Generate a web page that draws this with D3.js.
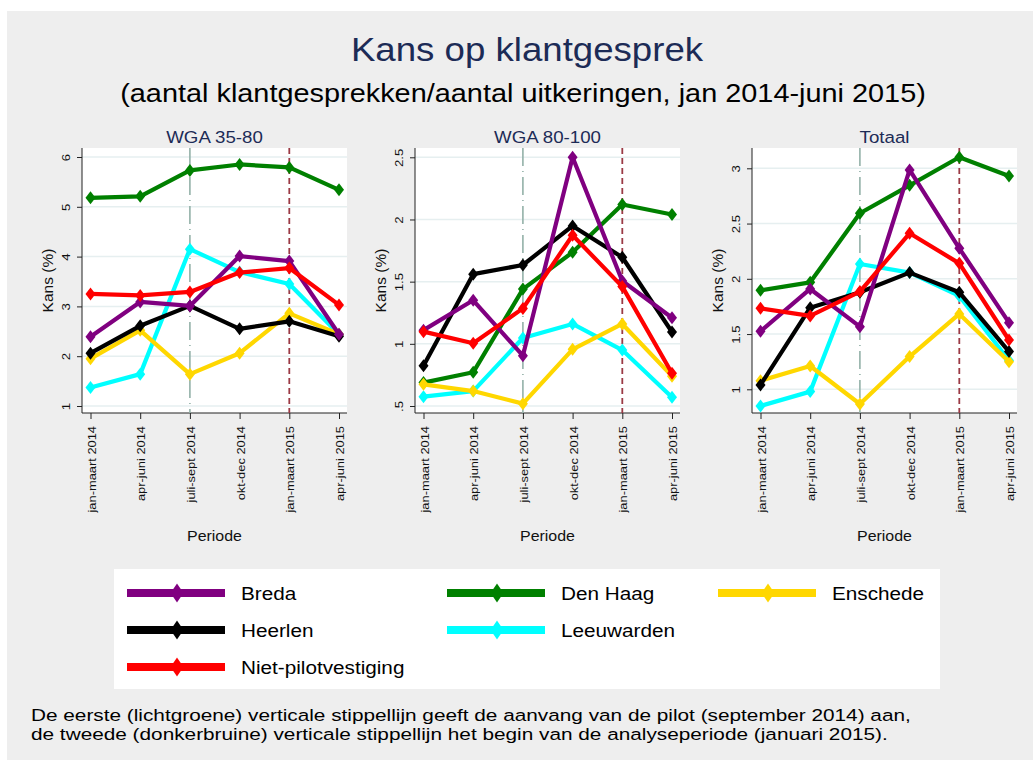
<!DOCTYPE html>
<html>
<head>
<meta charset="utf-8">
<script src="https://cdn.jsdelivr.net/npm/d3@7"></script>
<style>
  body { margin: 0; background: #fff; }
  svg { display: block; font-family: "Liberation Sans", Arial, sans-serif; }
</style>
</head>
<body>
<div id="chart"></div>
<script>
const periods = ['jan-maart 2014', 'apr-juni 2014', 'juli-sept 2014', 'okt-dec 2014', 'jan-maart 2015', 'apr-juni 2015'];
const seriesNames = ['Breda', 'Den Haag', 'Enschede', 'Heerlen', 'Leeuwarden', 'Niet-pilotvestiging'];
const seriesColors = ['#800080', '#008000', '#ffd700', '#000000', '#00ffff', '#ff0000'];
const drawOrder = ['Den Haag', 'Leeuwarden', 'Enschede', 'Heerlen', 'Breda', 'Niet-pilotvestiging'];

const panelTitles = ['WGA 35-80', 'WGA 80-100', 'Totaal'];
const panelTicks = [[1, 2, 3, 4, 5, 6], [0.5, 1, 1.5, 2, 2.5], [1, 1.5, 2, 2.5, 3]];
const panelTickLabels = [['1', '2', '3', '4', '5', '6'], ['.5', '1', '1.5', '2', '2.5'], ['1', '1.5', '2', '2.5', '3']];

// values per series, per panel (WGA 35-80, WGA 80-100, Totaal)
const breda      = [[2.39, 3.09, 3.01, 4.01, 3.91, 2.44], [1.11, 1.35, 0.905, 2.50, 1.505, 1.21], [1.525, 1.908, 1.567, 2.985, 2.276, 1.603]];
const denHaag    = [[5.18, 5.21, 5.73, 5.85, 5.79, 5.34], [0.688, 0.771, 1.44, 1.736, 2.12, 2.04], [1.896, 1.968, 2.593, 2.846, 3.10, 2.93]];
const enschede   = [[1.95, 2.52, 1.64, 2.06, 2.86, 2.44], [0.674, 0.62, 0.519, 0.956, 1.16, 0.74], [1.078, 1.211, 0.867, 1.296, 1.682, 1.25]];
const heerlen    = [[2.06, 2.61, 3.01, 2.55, 2.70, 2.40], [0.824, 1.56, 1.634, 1.948, 1.696, 1.095], [1.04, 1.739, 1.878, 2.056, 1.878, 1.341]];
const leeuwarden = [[1.37, 1.64, 4.15, 3.69, 3.45, 2.44], [0.575, 0.62, 1.047, 1.16, 0.95, 0.57], [0.849, 0.979, 2.134, 2.056, 1.845, 1.26]];
const nietPilot  = [[3.25, 3.22, 3.29, 3.68, 3.77, 3.03], [1.098, 1.004, 1.285, 1.873, 1.46, 0.763], [1.733, 1.664, 1.884, 2.412, 2.14, 1.446]];
const seriesValues = [breda, denHaag, enschede, heerlen, leeuwarden, nietPilot];

const pilotStart = 'juli-sept 2014';
const analysisStart = 'jan-maart 2015';
const footnote = [
  'De eerste (lichtgroene) verticale stippellijn geeft de aanvang van de pilot (september 2014) aan,',
  'de tweede (donkerbruine) verticale stippellijn het begin van de analyseperiode (januari 2015).'
];

const W = 1033, H = 760;
const svg = d3.select('#chart').append('svg').attr('width', W).attr('height', H);

// text drawn a bit wider than the font, like the original export
function wideText(parent, x, y, k, anchor, size, fill, str, rotate) {
  return parent.append('text')
    .attr('transform', `translate(${x},${y})${rotate ? ' rotate(-90)' : ''} scale(${k},1)`)
    .attr('text-anchor', anchor).attr('font-size', size).attr('fill', fill).text(str);
}

svg.append('rect').attr('x', 7).attr('y', 11).attr('width', W - 7).attr('height', H - 11).attr('fill', '#eeeeee');

wideText(svg, 527, 61, 1.11, 'middle', 33, '#1c2b56', 'Kans op klantgesprek');
wideText(svg, 523, 102, 1.09, 'middle', 26.5, '#000', '(aantal klantgesprekken/aantal uitkeringen, jan 2014-juni 2015)');

// panel geometry
const panelLefts = [82, 415, 752];
const plotW = 265, plotTop = 148, plotBottom = 413;
const yRanges = [[406, 157], [406, 157.3], [389.3, 168.3]];

panelTitles.forEach((title, p) => {
  const L = panelLefts[p];
  const g = svg.append('g');
  const x = d3.scalePoint().domain(periods).range([L + 8.5, L + 257]);
  const ticks = panelTicks[p];
  const y = d3.scaleLinear().domain([ticks[0], ticks[ticks.length - 1]]).range(yRanges[p]);

  g.append('rect').attr('x', L).attr('y', plotTop).attr('width', plotW).attr('height', plotBottom - plotTop).attr('fill', '#fff');

  g.selectAll('.grid').data(ticks).enter().append('line')
    .attr('x1', L).attr('x2', L + plotW)
    .attr('y1', d => y(d)).attr('y2', d => y(d))
    .attr('stroke', '#e6eff0').attr('stroke-width', 1.5);

  // y axis
  const yAxis = g.append('g').attr('transform', `translate(${L},0)`)
    .call(d3.axisLeft(y).tickValues(ticks).tickSize(5).tickFormat((d, i) => panelTickLabels[p][i]));
  yAxis.select('.domain').attr('d', `M0,${plotTop}V${plotBottom}`).attr('stroke', '#222');
  yAxis.selectAll('.tick line').attr('stroke', '#222');
  yAxis.selectAll('.tick text').attr('font-size', 11.5).attr('fill', '#111')
    .attr('text-anchor', 'middle').attr('x', 0).attr('y', 0).attr('dy', 0)
    .attr('transform', 'translate(-12,0) rotate(-90) scale(1.15,1)');

  // x axis
  const xAxis = g.append('g').attr('transform', `translate(0,${plotBottom})`)
    .call(d3.axisBottom(x).tickSize(6));
  xAxis.select('.domain').attr('d', `M${L},0H${L + plotW}`).attr('stroke', '#222');
  xAxis.selectAll('.tick line').attr('stroke', '#222');
  xAxis.selectAll('.tick text').attr('font-size', 11.5).attr('fill', '#111')
    .attr('text-anchor', 'end').attr('x', 0).attr('y', 0).attr('dy', 0)
    .attr('transform', 'translate(4.5,13) rotate(-90) scale(1.12,1)');

  // reference lines
  g.append('line').attr('x1', x(pilotStart)).attr('x2', x(pilotStart))
    .attr('y1', plotTop).attr('y2', plotBottom)
    .attr('stroke', '#93b1a8').attr('stroke-width', 1.6).attr('stroke-dasharray', '18,5,1,5');
  g.append('line').attr('x1', x(analysisStart)).attr('x2', x(analysisStart))
    .attr('y1', plotTop).attr('y2', plotBottom)
    .attr('stroke', '#9b3a45').attr('stroke-width', 1.8).attr('stroke-dasharray', '6,4');

  const line = d3.line().x((d, i) => x(periods[i])).y(d => y(d));
  drawOrder.forEach(name => {
    const s = seriesNames.indexOf(name);
    const vals = seriesValues[s][p];
    g.append('path').attr('d', line(vals)).attr('fill', 'none')
      .attr('stroke', seriesColors[s]).attr('stroke-width', 4.2).attr('stroke-linejoin', 'round');
    g.selectAll(null).data(vals).enter().append('path')
      .attr('d', 'M0,-6.5L5,0L0,6.5L-5,0Z')
      .attr('transform', (d, i) => `translate(${x(periods[i])},${y(d)})`)
      .attr('fill', seriesColors[s]);
  });

  // titles
  wideText(g, L + plotW / 2, 143, 1.1, 'middle', 17, '#1c2b56', title);
  wideText(g, L - 29, (plotTop + plotBottom) / 2, 1.0, 'middle', 15.5, '#111', 'Kans (%)', true);
  wideText(g, L + plotW / 2, 541, 1.03, 'middle', 15.5, '#111', 'Periode');
});

// legend
const legend = svg.append('g');
legend.append('rect').attr('x', 114).attr('y', 569).attr('width', 826).attr('height', 120).attr('fill', '#fff');
const legendCols = [127, 447, 718];
const legendRows = [593, 630, 667];
const legendSlots = [[0, 0], [1, 0], [2, 0], [0, 1], [1, 1], [0, 2]];
seriesNames.forEach((name, s) => {
  const [col, row] = legendSlots[s];
  const item = legend.append('g').attr('transform', `translate(${legendCols[col]},${legendRows[row]})`);
  item.append('line').attr('x1', 0).attr('x2', 98).attr('y1', 0).attr('y2', 0)
    .attr('stroke', seriesColors[s]).attr('stroke-width', 8);
  item.append('path').attr('d', 'M0,-9.5L6.5,0L0,9.5L-6.5,0Z').attr('transform', 'translate(50,0)')
    .attr('fill', seriesColors[s]);
  wideText(item, 114, 6.5, 1.12, 'start', 18.5, '#000', name);
});

// footnote
footnote.forEach((str, i) => wideText(svg, 31, 721 + i * 19, 1.26, 'start', 16.5, '#000', str));
</script>
</body>
</html>
